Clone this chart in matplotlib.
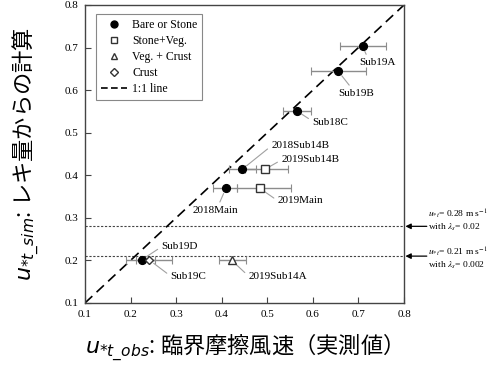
import matplotlib
matplotlib.use('Agg')
import matplotlib.pyplot as plt
from matplotlib.lines import Line2D

SERIF = 'Liberation Serif'
CJK = ['Noto Sans CJK JP', 'DejaVu Sans']

# observed vs simulated threshold friction velocity (m/s)
names = ['Sub19A', 'Sub19B', 'Sub18C', '2018Sub14B', '2019Sub14B',
         '2018Main', '2019Main', 'Sub19D', 'Sub19C', '2019Sub14A']
groups = ['bare', 'bare', 'bare', 'bare', 'stoneveg',
          'bare', 'stoneveg', 'bare', 'crust', 'vegcrust']
u_obs = [0.709, 0.656, 0.565, 0.445, 0.495, 0.409, 0.484, 0.224, 0.241, 0.422]
u_sim = [0.703, 0.644, 0.551, 0.414, 0.414, 0.369, 0.369, 0.201, 0.201, 0.200]
err_lo = [0.049, 0.060, 0.030, 0.030, 0.045, 0.029, 0.051, 0.033, 0.030, 0.029]
err_hi = [0.051, 0.061, 0.030, 0.030, 0.051, 0.024, 0.069, 0.030, 0.049, 0.031]

# label anchor (left edge / centre of text) and where the leader meets it
label_xy = [(0.701, 0.664), (0.655, 0.592), (0.599, 0.525), (0.509, 0.469),
            (0.531, 0.436), (0.337, 0.317), (0.523, 0.340), (0.268, 0.232),
            (0.288, 0.163), (0.459, 0.163)]
label_rel = [(0.25, 1.0), (0.4, 1.0), (0.0, 0.6), (0.0, 0.5), (0.0, 0.5),
             (0.55, 1.0), (0.0, 0.5), (0.0, 0.5), (0.0, 0.5), (0.0, 0.5)]

styles = {
    'bare': dict(marker='o', mfc='black', mec='black', ms=5.6),
    'stoneveg': dict(marker='s', mfc='white', mec='#333333', ms=5.2),
    'vegcrust': dict(marker='^', mfc='white', mec='#333333', ms=6),
    'crust': dict(marker='D', mfc='white', mec='#333333', ms=4.4),
}
legend_styles = {
    'bare': dict(marker='o', mfc='black', mec='black', ms=5),
    'stoneveg': dict(marker='s', mfc='white', mec='#333333', ms=4.3),
    'vegcrust': dict(marker='^', mfc='white', mec='#333333', ms=5),
    'crust': dict(marker='D', mfc='white', mec='#333333', ms=3.8),
}
legend_names = {'bare': 'Bare or Stone', 'stoneveg': 'Stone+Veg.',
                'vegcrust': 'Veg. + Crust', 'crust': 'Crust'}

# threshold lines from the model
thresh_u = [0.28, 0.21]
thresh_lambda = ['0.02', '0.002']
thresh_text_y = [0.294, 0.205]

fig = plt.figure(figsize=(5.0, 3.69), dpi=100)
ax = fig.add_axes([0.17, 0.179, 0.638, 0.8075])

ax.plot([0.1, 0.8], [0.1, 0.8], color='black', lw=1.2, ls=(0, (6, 3.5)), zorder=2)
for yv in thresh_u:
    ax.axhline(yv, color='#444444', lw=0.8, ls=(0, (2, 1.5)), zorder=1)

for i in range(len(names)):
    ax.errorbar(u_obs[i], u_sim[i], xerr=[[err_lo[i]], [err_hi[i]]],
                fmt='none', ecolor='#8c8c8c', elinewidth=1.0, capsize=3,
                capthick=0.8, zorder=3)
for i in range(len(names)):
    ax.plot(u_obs[i], u_sim[i], ls='none', mew=1.0, zorder=4, **styles[groups[i]])
    ax.annotate(names[i], xy=(u_obs[i], u_sim[i]), xytext=label_xy[i],
                ha='left', va='center', fontsize=8, family=SERIF,
                arrowprops=dict(arrowstyle='-', color='#a0a0a0', lw=0.8,
                                relpos=label_rel[i], shrinkA=1, shrinkB=4))

for yv, lam, ty in zip(thresh_u, thresh_lambda, thresh_text_y):
    ax.annotate('', xy=(0.803, yv), xytext=(0.85, yv), annotation_clip=False,
                arrowprops=dict(arrowstyle='-|>', color='black', lw=0.9,
                                mutation_scale=8, shrinkA=0, shrinkB=0))
    ax.text(0.852, ty,
            '$u_{*t}$= %.2f m s$^{-1}$\nwith $\\lambda_s$= %s' % (yv, lam),
            fontsize=6.8, family=SERIF, math_fontfamily='stix',
            ha='left', va='center', linespacing=1.05, clip_on=False)

order = ['bare', 'stoneveg', 'vegcrust', 'crust']
handles = [Line2D([], [], ls='none', mew=1.0, **legend_styles[g]) for g in order]
handles.append(Line2D([], [], color='black', lw=1.2, ls=(0, (4, 2))))
leg = ax.legend(handles, [legend_names[g] for g in order] + ['1:1 line'],
                loc='upper left', bbox_to_anchor=(0.034, 0.97), borderaxespad=0,
                prop={'family': SERIF, 'size': 8.5}, handlelength=2.2,
                handletextpad=0.5, labelspacing=0.35, fancybox=False,
                framealpha=1, edgecolor='#888888', borderpad=0.4)
leg.get_frame().set_linewidth(0.8)

ax.set_xlim(0.1, 0.8)
ax.set_ylim(0.1, 0.8)
ticks = [0.1, 0.2, 0.3, 0.4, 0.5, 0.6, 0.7, 0.8]
ax.set_xticks(ticks)
ax.set_yticks(ticks)
ax.set_xticklabels([f'{t:.1f}' for t in ticks], family=SERIF, fontsize=8)
ax.set_yticklabels([f'{t:.1f}' for t in ticks], family=SERIF, fontsize=8)
ax.tick_params(direction='in', length=4, width=0.8, color='#444444', pad=5)
for sp in ax.spines.values():
    sp.set_color('#444444')
    sp.set_linewidth(1.0)

ax.set_xlabel('$u_{*t\\_obs}$: 臨界摩擦風速（実測値）', family=CJK,
              fontsize=16, math_fontfamily='dejavusans')
ax.xaxis.set_label_coords(0.48, -0.095, transform=ax.transAxes)
ax.xaxis.label.set_va('top')
ax.set_ylabel('$u_{*t\\_sim}$: レキ量からの計算', family=CJK,
              fontsize=16, math_fontfamily='dejavusans')
ax.yaxis.set_label_coords(-0.135, 0.5, transform=ax.transAxes)

fig.savefig('out.png', dpi=100)
